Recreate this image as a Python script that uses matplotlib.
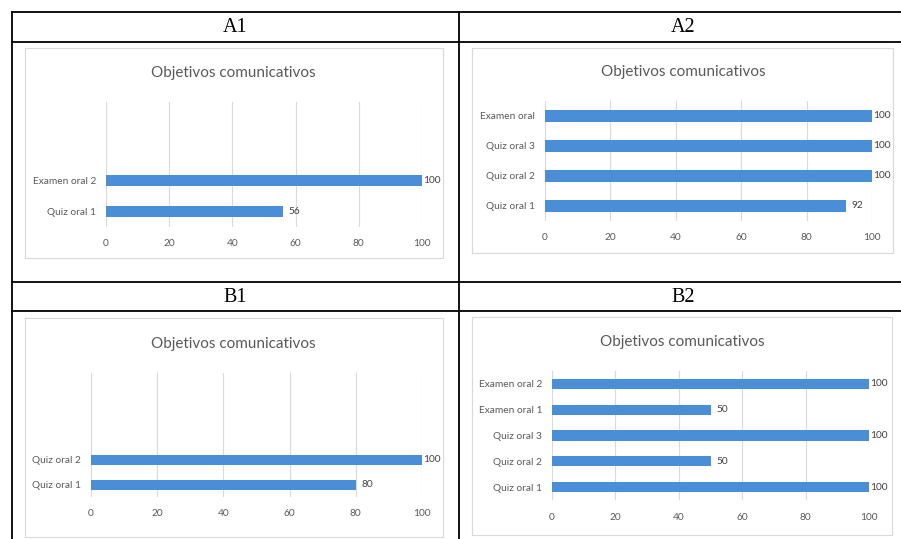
import matplotlib
matplotlib.use("Agg")
import matplotlib.pyplot as plt
from matplotlib.lines import Line2D
from matplotlib.patches import Rectangle

W, H = 901, 539

# Panel data
title = "Objetivos comunicativos"
headers = ["A1", "A2", "B1", "B2"]

a1_labels = ["Quiz oral 1", "Examen oral 2"]
a1_values = [56, 100]

a2_labels = ["Quiz oral 1", "Quiz oral 2", "Quiz oral 3", "Examen oral"]
a2_values = [92, 100, 100, 100]

b1_labels = ["Quiz oral 1", "Quiz oral 2"]
b1_values = [80, 100]

b2_labels = ["Quiz oral 1", "Quiz oral 2", "Quiz oral 3", "Examen oral 1", "Examen oral 2"]
b2_values = [100, 50, 100, 50, 100]

xticks = [0, 20, 40, 60, 80, 100]

BAR = "#4a8ed8"
GRID = "#d9d9d9"
TXT = "#595959"
FONT = "Lato"

fig = plt.figure(figsize=(W / 100, H / 100), dpi=100)
fig.patch.set_facecolor("white")


def fx(x):
    return x / W


def fy(y):
    return 1 - y / H


def hline(x0, x1, y, lw=1.3):
    fig.add_artist(Line2D([fx(x0), fx(x1)], [fy(y), fy(y)], color="black", lw=lw))


def vline(x, y0, y1, lw=1.3):
    fig.add_artist(Line2D([fx(x), fx(x)], [fy(y0), fy(y1)], color="black", lw=lw))


# Table grid
hline(12, 901, 12)
hline(12, 901, 42)
hline(12, 901, 282)
hline(12, 901, 311)
vline(12, 12, 539)
vline(459, 12, 539)

header_pos = [(235, 27), (683, 27), (235, 297), (683, 297)]
for txt, (x, y) in zip(headers, header_pos):
    fig.text(fx(x), fy(y), txt, ha="center", va="center",
             fontsize=14.5, family="Liberation Serif", color="black")


def panel(box, title_xy, plot, labels, values, nslots, bar_h):
    bx0, by0, bx1, by1 = box
    fig.add_artist(Rectangle((fx(bx0), fy(by1)), fx(bx1 - bx0), (by1 - by0) / H,
                             transform=fig.transFigure, facecolor="white",
                             edgecolor=GRID, lw=0.8, zorder=-1))
    fig.text(fx(title_xy[0]), fy(title_xy[1]), title, ha="center", va="center",
             fontsize=11, family=FONT, color=TXT)
    px0, py0, px1, py1 = plot
    ax = fig.add_axes([fx(px0), fy(py1), fx(px1 - px0), (py1 - py0) / H])
    ax.set_zorder(2)
    ax.set_facecolor("none")
    pos = list(range(len(values)))
    ax.barh(pos, values, height=bar_h, color=BAR, zorder=3)
    ax.set_xlim(0, 100)
    ax.set_ylim(-0.5, nslots - 0.5)
    ax.set_xticks(xticks)
    ax.set_yticks(pos)
    ax.set_yticklabels(labels)
    ax.tick_params(axis="both", length=0, labelsize=7.3, labelcolor=TXT)
    ax.tick_params(axis="x", pad=9)
    ax.tick_params(axis="y", pad=7)
    for lab in ax.get_xticklabels() + ax.get_yticklabels():
        lab.set_family(FONT)
    ax.grid(axis="x", color=GRID, lw=0.8, zorder=0)
    for s in ax.spines.values():
        s.set_visible(False)
    for p, v in zip(pos, values):
        off = 1 if v >= 100 else 6
        ax.annotate(f"{v}", (v, p), xytext=(off, 0), textcoords="offset pixels",
                    ha="left", va="center", fontsize=7.3, family=FONT, color="#404040")
    return ax


panel((25, 48, 443, 258), (233, 73), (106, 102, 422, 227),
      a1_labels, a1_values, 4, 0.36)
panel((472, 48, 893, 253), (683, 72), (545, 101, 872, 221),
      a2_labels, a2_values, 4, 0.4)
panel((25, 318, 443, 537), (233, 344), (91, 373, 422, 497),
      b1_labels, b1_values, 5, 0.4)
panel((472, 317, 892, 535), (682, 342), (552, 371, 869, 500),
      b2_labels, b2_values, 5, 0.4)

fig.savefig("out.png", dpi=100, facecolor="white")
